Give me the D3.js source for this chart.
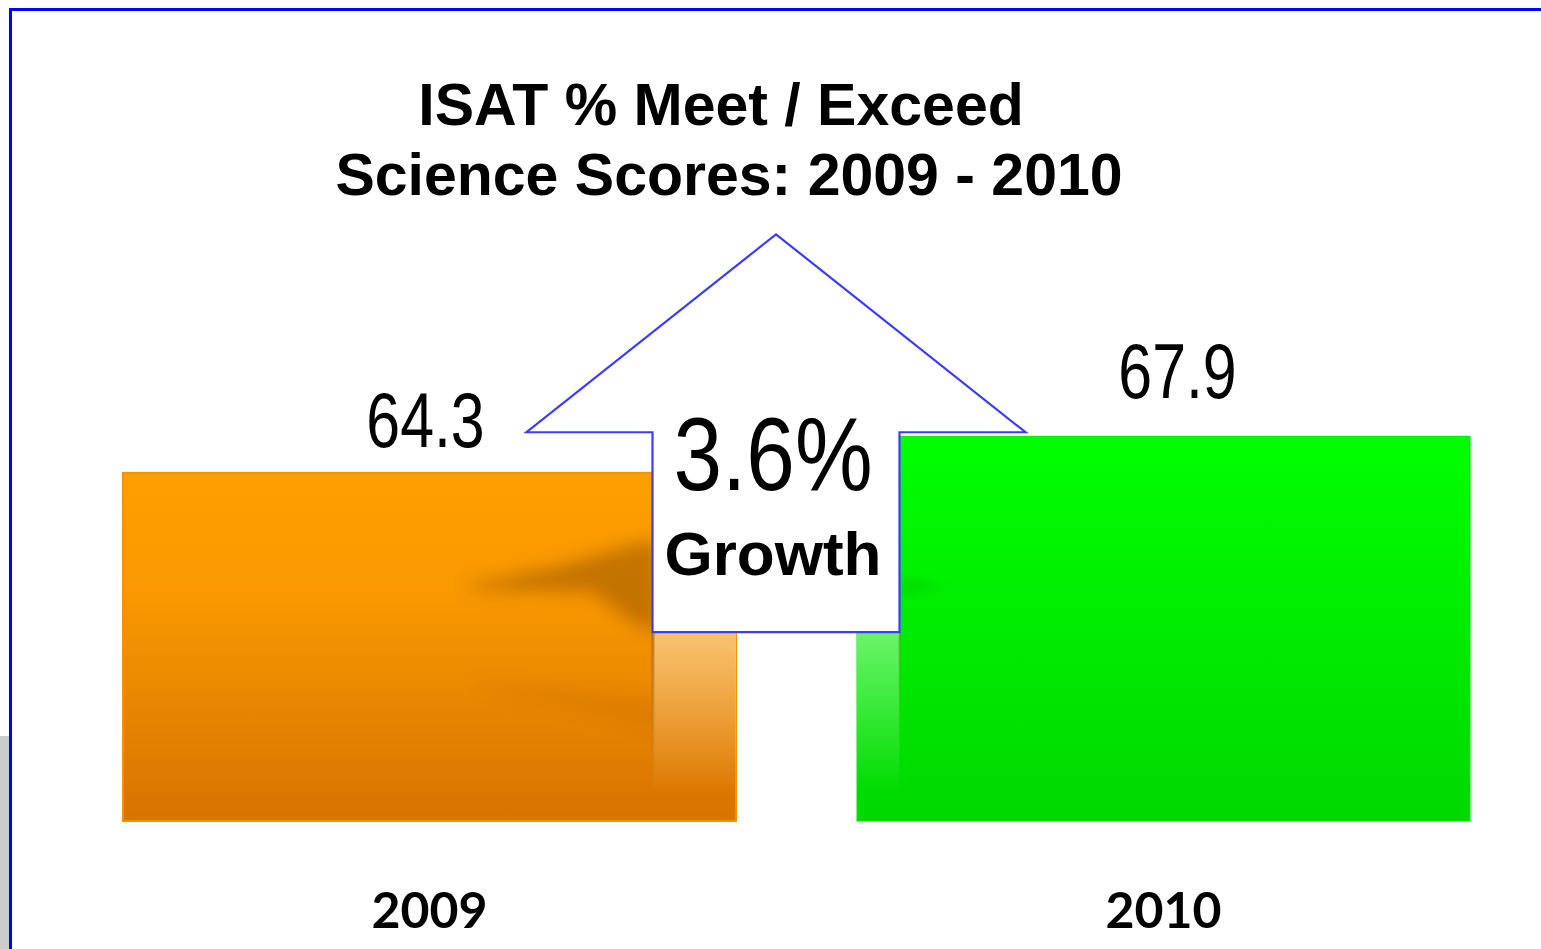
<!DOCTYPE html>
<html><head><meta charset="utf-8">
<script src="https://cdn.jsdelivr.net/npm/d3@7"></script>
<style>html,body{margin:0;padding:0;background:#fff;overflow:hidden}</style>
</head><body>
<svg id="chart" width="1541" height="949"></svg>
<script>
const categories = ["2009", "2010"];
const values = [64.3, 67.9];
const valueLabels = ["64.3", "67.9"];
const titleLines = ["ISAT % Meet / Exceed", "Science Scores: 2009 - 2010"];
const growthText = ["3.6%", "Growth"];
// growth arrow, in value units (apex, wing base, shaft bottom)
const arrowValues = [87.8, 68.3, 48.6];

const svg = d3.select("#chart");
const defs = svg.append("defs");

const x = d3.scaleBand().domain(categories).range([123, 1470]).paddingInner(121/734).paddingOuter(0);
const y = d3.scaleLinear().domain([30, 70]).range([821, 415]);
const bw = x.bandwidth();

function grad(id, stops, x1=0,y1=0,x2=0,y2=1){
  const g = defs.append("linearGradient").attr("id", id)
    .attr("x1",x1).attr("y1",y1).attr("x2",x2).attr("y2",y2);
  stops.forEach(s => g.append("stop").attr("offset", s[0]).attr("stop-color", s[1]).attr("stop-opacity", s[2] ?? 1));
}
grad("gOrange", [[0,"#ff9f00"],[0.35,"#f99800"],[1,"#d77300"]]);
grad("gGreen", [[0,"#00ff00"],[1,"#00d800"]]);
grad("gRefl", [[0,"#ffffff",0.45],[0.85,"#ffffff",0.0]]);
grad("gReflG", [[0,"#ffffff",0.42],[0.85,"#ffffff",0.0]]);
grad("gEdge", [[0,"#7a4000",0.5],[1,"#7a4000",0]]);
defs.append("filter").attr("id","blur").attr("x","-50%").attr("y","-50%").attr("width","200%").attr("height","200%")
  .append("feGaussianBlur").attr("stdDeviation", 9);
defs.append("filter").attr("id","blur2").attr("x","-50%").attr("y","-50%").attr("width","200%").attr("height","200%")
  .append("feGaussianBlur").attr("stdDeviation", 6);

// background frame
svg.append("rect").attr("x",0).attr("y",736).attr("width",9).attr("height",213).attr("fill","#cccccc");
svg.append("line").attr("x1",9).attr("x2",1541).attr("y1",9.5).attr("y2",9.5).attr("stroke","#0000ff").attr("stroke-width",3);
svg.append("line").attr("x1",10.5).attr("x2",10.5).attr("y1",8).attr("y2",949).attr("stroke","#0000ff").attr("stroke-width",3);

// title
svg.append("text").attr("x", 725).attr("text-anchor","middle")
  .attr("font-family","Liberation Sans, Arial, sans-serif").attr("font-weight","bold").attr("font-size",59)
  .selectAll("tspan").data(titleLines).join("tspan")
  .attr("x", (d,i)=> i===0 ? 721 : 729).attr("y",(d,i)=>125 + i*70).text(d=>d);

// bars
const fills = ["url(#gOrange)", "url(#gGreen)"];
const strokes = ["#f59200", "#00e600"];
svg.selectAll("rect.bar").data(values).join("rect").attr("class","bar")
  .attr("x",(d,i)=>x(categories[i])).attr("y",d=>y(d))
  .attr("width",bw).attr("height",d=>y.range()[0]-y(d))
  .attr("fill",(d,i)=>fills[i]).attr("stroke",(d,i)=>strokes[i]).attr("stroke-width",(d,i)=>i===0?2:1);

// arrow geometry derived from scales
const cx = (x(categories[0]) + bw + x(categories[1]))/2 - 20.5;
const shaftHalf = 123.5, wingHalf = 249.5;
const yApex = y(arrowValues[0]), yWing = y(arrowValues[1]), yShaft = y(arrowValues[2]);

// shadows on orange bar (clipped)
defs.append("clipPath").attr("id","clipO").append("rect")
  .attr("x", x(categories[0])).attr("y", y(values[0])).attr("width", cx - shaftHalf - x(categories[0])).attr("height", y.range()[0]-y(values[0]));
const sh = svg.append("g").attr("clip-path","url(#clipO)");
sh.append("path").attr("filter","url(#blur)").attr("fill","#7a4000").attr("opacity",0.42)
  .attr("d", d3.line()([[462,586],[560,566],[645,541],[660,543],[660,630],[640,626],[590,592],[480,590]]) + "Z");
sh.append("path").attr("filter","url(#blur)").attr("fill","#8a4a00").attr("opacity",0.11)
  .attr("d", d3.line()([[470,682],[580,690],[660,700],[660,730],[600,715],[480,688]]) + "Z");

// faint shadow on green bar
svg.append("path").attr("filter","url(#blur2)").attr("fill","#006600").attr("opacity",0.15)
  .attr("d", d3.line()([[cx+shaftHalf,578],[950,586],[cx+shaftHalf,596]]) + "Z");

// reflections under the shaft
svg.append("rect").attr("x", cx-shaftHalf).attr("y", yShaft).attr("width", x(categories[0])+bw-(cx-shaftHalf)).attr("height", y.range()[0]-yShaft).attr("fill","url(#gRefl)");
svg.append("rect").attr("x", x(categories[1])).attr("y", yShaft).attr("width", cx+shaftHalf-x(categories[1])).attr("height", y.range()[0]-yShaft).attr("fill","url(#gReflG)");
svg.append("rect").attr("x", cx-shaftHalf-1).attr("y", yShaft).attr("width", 3).attr("height", 150).attr("fill","url(#gEdge)");
svg.append("rect").attr("x", cx+shaftHalf-1).attr("y", yShaft).attr("width", 2).attr("height", 110).attr("fill","url(#gEdge)").attr("opacity",0.5);

// arrow
svg.append("path")
  .attr("d", d3.line()([[cx,yApex],[cx+wingHalf,yWing],[cx+shaftHalf,yWing],[cx+shaftHalf,yShaft],[cx-shaftHalf,yShaft],[cx-shaftHalf,yWing],[cx-wingHalf,yWing]]) + "Z")
  .attr("fill","#ffffff").attr("stroke","#3c3cff").attr("stroke-width",2.2).attr("stroke-linejoin","miter");

// growth text
svg.append("text").attr("transform", `translate(${cx-3},490) scale(0.84,1)`).attr("text-anchor","middle")
  .attr("font-family","Liberation Sans, Arial, sans-serif").attr("font-size",104).text(growthText[0]);
svg.append("text").attr("x", cx-3).attr("y", 575).attr("text-anchor","middle")
  .attr("font-family","Liberation Sans, Arial, sans-serif").attr("font-weight","bold").attr("font-size",62).text(growthText[1]);

// value labels
const labelDx = [-4, 14];
const labelDy = [-26, -38];
svg.selectAll("text.val").data(values).join("text").attr("class","val")
  .attr("transform",(d,i)=>`translate(${x(categories[i])+bw/2+labelDx[i]},${y(d)+labelDy[i]}) scale(0.78,1)`)
  .attr("text-anchor","middle").attr("font-family","Liberation Sans, Arial, sans-serif")
  .attr("font-size",78).attr("fill","#000").text((d,i)=>valueLabels[i]);

// category axis labels
const xAxis = d3.axisBottom(x).tickSize(0).tickPadding(0);
const ax = svg.append("g").attr("transform","translate(0,891)").call(xAxis);
ax.select(".domain").remove();
ax.selectAll("text").attr("font-family","Lato, 'Open Sans', sans-serif").attr("font-weight","bold")
  .attr("font-size",50).attr("fill","#000").attr("dy","0.74em");
</script>
</body></html>
